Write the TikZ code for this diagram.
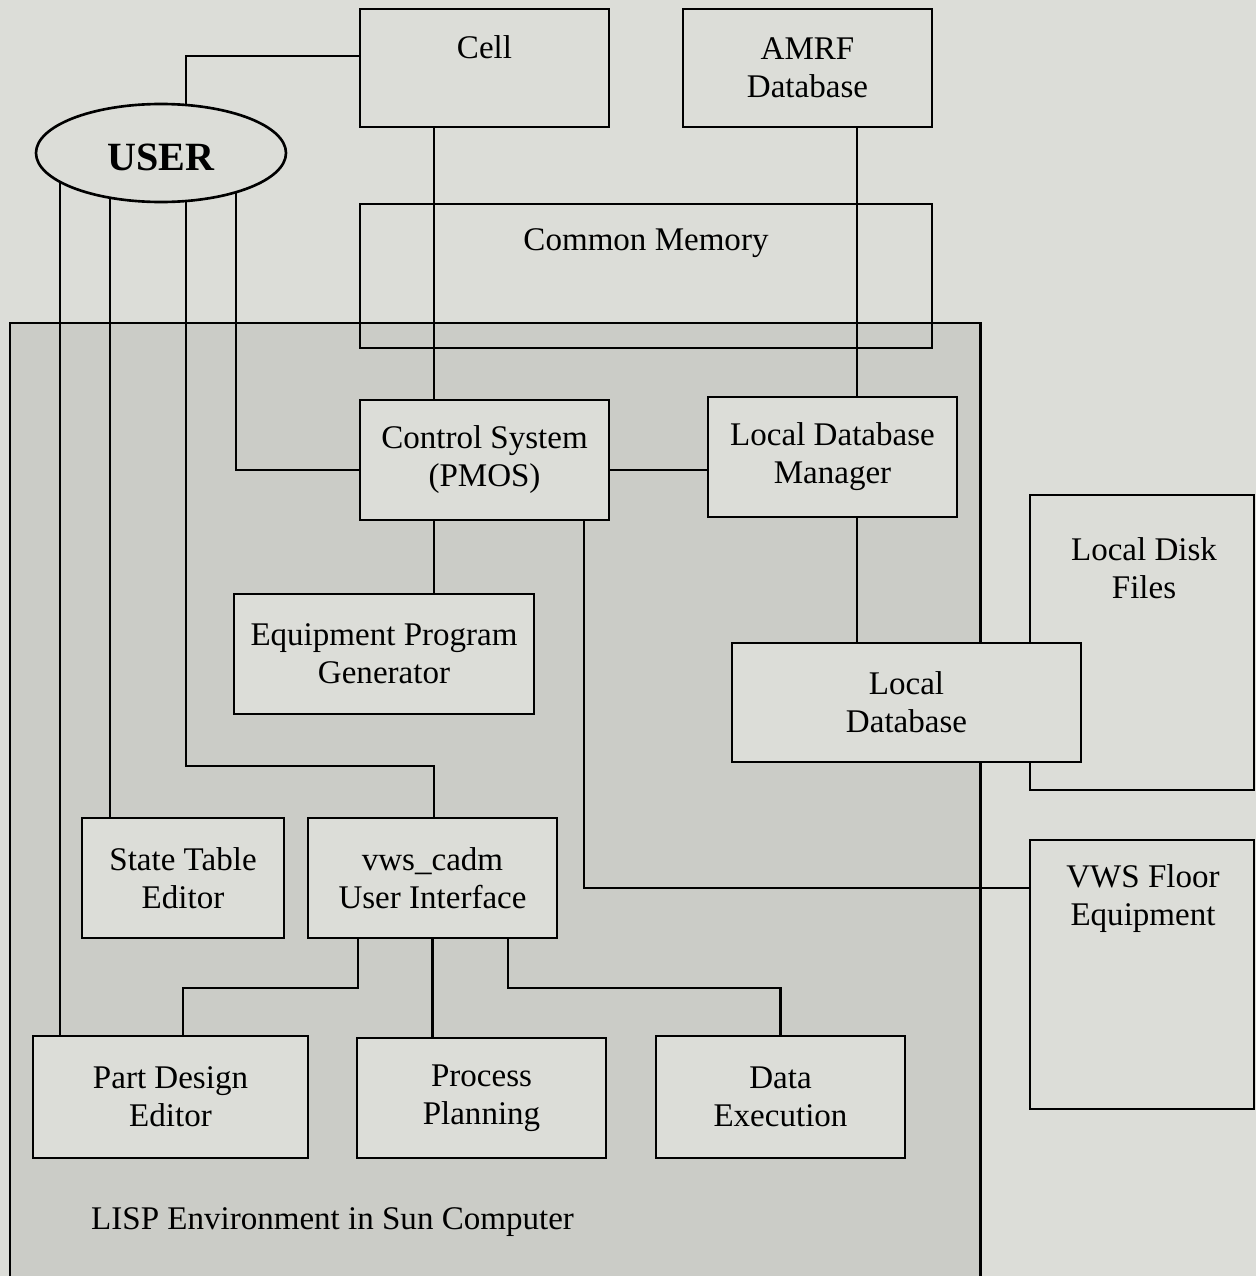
\documentclass[tikz,border=0pt]{standalone}
\usepackage{fontspec}
\setmainfont{Liberation Serif}
\usetikzlibrary{shapes.geometric}
\definecolor{bg}{RGB}{220,221,216}
\definecolor{stip}{RGB}{203,204,199}
\pgfdeclarelayer{back}
\pgfdeclarelayer{wires}
\pgfsetlayers{back,wires,main}
\tikzset{
  txtfont/.style={font=\fontsize{9.4}{10.8}\selectfont},
  box/.style={draw, line width=0.75pt, fill=bg, rectangle, inner sep=0pt, align=center, txtfont},
  openbox/.style={draw, line width=0.75pt, rectangle, inner sep=0pt},
  lbl/.style={inner sep=0pt, align=center, txtfont},
  wire/.style={line width=0.6pt},
  region/.style={fill=stip, draw, line width=0.85pt}
}
\begin{document}
\begin{tikzpicture}
\useasboundingbox (0,0) rectangle (12.56,-12.76);

% nodes
\node[box, minimum width=2.49cm, minimum height=1.18cm] (cell) at (4.845,-0.68) {};
\node[lbl] (cellt) at (4.845,-0.47) {Cell};
\node[box, minimum width=2.49cm, minimum height=1.18cm] (amrf) at (8.075,-0.68) {AMRF\\Database};
\node[ellipse, draw, fill=bg, line width=0.75pt, inner sep=0pt, minimum width=2.50cm, minimum height=0.98cm] (user) at (1.61,-1.53) {};
\node[inner sep=0pt, font=\bfseries\fontsize{11.4}{13}\selectfont] (usert) at (1.61,-1.57) {USER};
\node[openbox, minimum width=5.72cm, minimum height=1.44cm] (cm) at (6.46,-2.76) {};
\node[lbl] (cmt) at (6.46,-2.43) {Common Memory};
\node[box, minimum width=2.49cm, minimum height=1.20cm] (ctrl) at (4.845,-4.60) {Control System\\(PMOS)};
\node[box, minimum width=2.49cm, minimum height=1.20cm] (ldm) at (8.325,-4.57) {Local Database\\Manager};
\node[box, minimum width=3.00cm, minimum height=1.20cm] (epg) at (3.84,-6.54) {Equipment Program\\Generator};
\node[box, minimum width=2.24cm, minimum height=2.95cm] (ldf) at (11.42,-6.425) {};
\node[lbl] (ldft) at (11.44,-5.68) {Local Disk\\Files};
\node[box, minimum width=3.49cm, minimum height=1.19cm] (ld) at (9.065,-7.025) {Local\\Database};
\node[box, minimum width=2.24cm, minimum height=2.69cm] (vwsf) at (11.42,-9.745) {};
\node[lbl] (vwsft) at (11.43,-8.99) {VWS Floor\\Equipment};
\node[box, minimum width=2.02cm, minimum height=1.20cm] (ste) at (1.83,-8.78) {State Table\\Editor};
\node[box, minimum width=2.49cm, minimum height=1.20cm] (vws) at (4.325,-8.78) {vws\_cadm\\User Interface};
\node[box, minimum width=2.75cm, minimum height=1.22cm] (pde) at (1.705,-10.97) {Part Design\\Editor};
\node[box, minimum width=2.49cm, minimum height=1.20cm] (pp) at (4.815,-10.98) {Process\\Planning};
\node[box, minimum width=2.49cm, minimum height=1.22cm] (de) at (7.805,-10.97) {Data\\Execution};
\node[lbl, anchor=west] (lisp) at (0.905,-12.22) {LISP Environment in Sun Computer};

% background and region
\begin{pgfonlayer}{back}
\fill[bg] (0,0) rectangle (12.56,-12.76);
\path[region] (0.10,-13.20) -- (0.10,-3.23) -- (9.80,-3.23) -- (9.80,-13.20);
\end{pgfonlayer}

% helper coordinates
\coordinate (uA) at (0.60,-1.53);
\coordinate (uB) at (1.10,-1.53);
\coordinate (uC) at (1.86,-1.53);
\coordinate (uD) at (2.36,-1.53);
\coordinate (cy) at (0,-0.56);
\coordinate (xa) at (4.34,0);
\coordinate (xb) at (8.57,0);
\coordinate (yc) at (0,-4.70);
\coordinate (xd) at (5.84,0);
\coordinate (ye) at (0,-8.88);
\coordinate (yf) at (0,-7.66);
\coordinate (xg) at (3.58,0);
\coordinate (xh) at (1.83,0);
\coordinate (yg) at (0,-9.88);
\coordinate (xi) at (5.08,0);

\begin{pgfonlayer}{wires}
\draw[wire] (uC) |- (cell.west |- cy);
\draw[wire] (cell.south -| xa) -- (ctrl.north -| xa);
\draw[wire] (amrf.south -| xb) -- (ldm.north -| xb);
\draw[wire] (ctrl.east |- yc) -- (ldm.west |- yc);
\draw[wire] (uD) |- (ctrl.west |- yc);
\draw[wire] (ctrl.south -| xa) -- (epg.north -| xa);
\draw[wire] (ldm.south -| xb) -- (ld.north -| xb);
\draw[wire] (ctrl.south -| xd) |- (vwsf.west |- ye);
\draw[wire] (uB) -- (ste.north -| uB);
\draw[wire] (uC) |- (xa |- yf) -- (vws.north -| xa);
\draw[wire] (uA) -- (pde.north -| uA);
\draw[wire] (vws.south -| xg) |- (xh |- yg) -- (pde.north -| xh);
\draw[wire] (vws.south) -- (pp.north -| vws.south);
\draw[wire] (vws.south -| xi) |- (de.north |- yg) -- (de.north);
\end{pgfonlayer}
\end{tikzpicture}
\end{document}
